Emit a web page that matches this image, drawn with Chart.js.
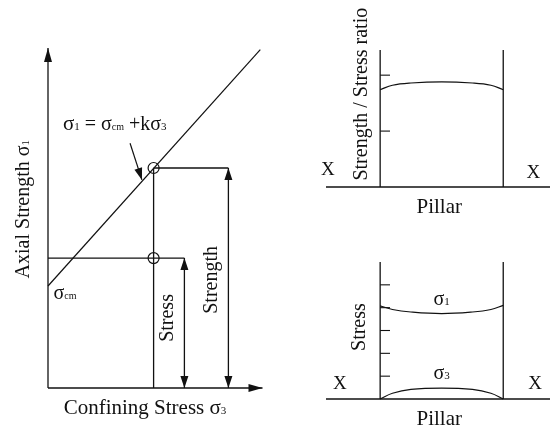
<!DOCTYPE html>
<html>
<head>
<meta charset="utf-8">
<script src="https://cdn.jsdelivr.net/npm/chart.js@4.4.1/dist/chart.umd.min.js"></script>
<style>
  html, body { margin: 0; padding: 0; background: #fff; }
  #wrap { position: relative; width: 550px; height: 427px; overflow: hidden; }
  .panel { position: absolute; }
</style>
</head>
<body>
<div id="wrap">
  <div class="panel" style="left:0;top:0;width:280px;height:427px"><canvas id="envelopeChart"></canvas></div>
  <div class="panel" style="left:300px;top:0;width:250px;height:220px"><canvas id="ratioChart"></canvas></div>
  <div class="panel" style="left:300px;top:220px;width:250px;height:207px"><canvas id="stressChart"></canvas></div>
</div>
<script>
// ------------------------------------------------------------
// Data
// ------------------------------------------------------------
// left: strength envelope (confining stress vs axial strength)
const yAxisTop = 10;
const xAxisEnd = 9.75;
const envelopeX = [0, 9.65];
const envelopeY = [3.0, 9.95];
const pillarSigma3 = 4.8;
const pillarStrength = 6.47;
const pillarStress = 3.82;
const stressArrowX = 6.2;
const strengthArrowX = 8.2;
const pointerX = [3.73, 4.27];
const pointerY = [7.2, 6.12];

// right: across the pillar (0 = left rib, 1 = right rib)
const pillarEdges = [0, 1];
const groundX = [-0.44, 1.38];
const acrossX = [0, 0.1, 0.25, 0.5, 0.75, 0.9, 1];
const ratioY = [1.74, 1.82, 1.86, 1.88, 1.86, 1.82, 1.74];
const ratioTicks = [1, 2];
const ratioTop = 2.45;
const sigma1Y = [4.08, 3.92, 3.81, 3.74, 3.81, 3.92, 4.1];
const sigma3Y = [0, 0.25, 0.42, 0.48, 0.42, 0.25, 0];
const stressTicks = [1, 2, 3, 4, 5];
const stressTop = 6.0;
const tickLen = 0.08;

const INK = '#111';
const SERIF = '"Liberation Serif", "DejaVu Serif", serif';

// ------------------------------------------------------------
// helpers
// ------------------------------------------------------------
function seg(xs, ys, extra) {
  return Object.assign({
    data: xs.map((x, i) => ({ x, y: ys[i] })),
    showLine: true,
    borderColor: INK,
    borderWidth: 1.3,
    pointRadius: 0,
    fill: false,
    clip: false,
    tension: 0
  }, extra || {});
}

function drawRich(ctx, x, y, parts, opts) {
  ctx.save();
  ctx.translate(x, y);
  if (opts.rotate) ctx.rotate(-Math.PI / 2);
  let total = 0;
  parts.forEach(([t, s]) => { ctx.font = `${s}px ${SERIF}`; total += ctx.measureText(t).width; });
  let cx = opts.align === 'left' ? 0 : -total / 2;
  const shift = opts.baseline ? 0 : parts[0][1] * 0.33;
  ctx.fillStyle = INK;
  ctx.textBaseline = 'alphabetic';
  parts.forEach(([t, s]) => {
    ctx.font = `${s}px ${SERIF}`;
    ctx.fillText(t, cx, shift);
    cx += ctx.measureText(t).width;
  });
  ctx.restore();
}

// arrow heads and text annotations, placed through the chart scales
const annotate = {
  id: 'annotate',
  afterDatasetsDraw(chart) {
    const ctx = chart.ctx;
    chart.data.datasets.forEach((ds, i) => {
      if (!ds.heads) return;
      const pts = chart.getDatasetMeta(i).data;
      const head = (tip, from) => {
        const a = Math.atan2(tip.y - from.y, tip.x - from.x);
        const L = ds.headLen || 12, W = ds.headW || 4;
        ctx.save();
        ctx.translate(tip.x, tip.y);
        ctx.rotate(a);
        ctx.beginPath();
        ctx.moveTo(0, 0);
        ctx.lineTo(-L, -W);
        ctx.lineTo(-L, W);
        ctx.closePath();
        ctx.fillStyle = INK;
        ctx.fill();
        ctx.restore();
      };
      if (ds.heads.includes('end')) head(pts[pts.length - 1], pts[pts.length - 2]);
      if (ds.heads.includes('start')) head(pts[0], pts[1]);
    });
    const sx = chart.scales.x, sy = chart.scales.y;
    (chart.options.plugins.annotate.labels || []).forEach(l => {
      drawRich(ctx, sx.getPixelForValue(l.x), sy.getPixelForValue(l.y), l.parts, l);
    });
  }
};

function baseOptions(padding, xr, yr, labels) {
  return {
    responsive: true,
    maintainAspectRatio: false,
    animation: false,
    events: [],
    layout: { padding },
    plugins: {
      legend: { display: false },
      tooltip: { enabled: false },
      annotate: { labels }
    },
    scales: {
      x: { type: 'linear', display: false, min: xr[0], max: xr[1] },
      y: { type: 'linear', display: false, min: yr[0], max: yr[1] }
    }
  };
}

// ------------------------------------------------------------
// Left: strength envelope
// ------------------------------------------------------------
new Chart(document.getElementById('envelopeChart'), {
  type: 'scatter',
  data: {
    datasets: [
      seg([0, 0], [0, yAxisTop], { heads: ['end'], headLen: 14, headW: 4 }),
      seg([0, xAxisEnd], [0, 0], { heads: ['end'], headLen: 14, headW: 4 }),
      seg(envelopeX, envelopeY, { borderWidth: 1.2 }),
      seg([pillarSigma3, pillarSigma3], [pillarStrength, 0]),
      seg([0, stressArrowX], [pillarStress, pillarStress]),
      seg([pillarSigma3, strengthArrowX], [pillarStrength, pillarStrength]),
      seg([stressArrowX, stressArrowX], [pillarStress, 0], { heads: ['start', 'end'], headLen: 12, headW: 4 }),
      seg([strengthArrowX, strengthArrowX], [pillarStrength, 0], { heads: ['start', 'end'], headLen: 12, headW: 4 }),
      seg(pointerX, pointerY, { heads: ['end'], headLen: 12, headW: 4, borderWidth: 1.2 }),
      {
        data: [{ x: pillarSigma3, y: pillarStrength }, { x: pillarSigma3, y: pillarStress }],
        showLine: false,
        pointStyle: 'circle',
        pointRadius: 5.5,
        pointBorderWidth: 1.2,
        pointBorderColor: INK,
        pointBackgroundColor: 'rgba(0,0,0,0)',
        clip: false
      }
    ]
  },
  plugins: [annotate],
  options: baseOptions({ left: 48, right: 12, top: 48, bottom: 39 }, [0, 10], [0, 10], [
    { x: 0.68, y: 7.59, align: 'left', baseline: true,
      parts: [['σ', 21], ['1', 11], [' = σ', 20], ['cm', 10], [' +kσ', 20], ['3', 11]] },
    { x: 0.25, y: 2.8, align: 'left', parts: [['σ', 20], ['cm', 10]] },
    { x: -1.18, y: 5.26, rotate: true, parts: [['Axial Strength σ', 20], ['1', 11]] },
    { x: 5.36, y: 2.06, rotate: true, parts: [['Stress', 20]] },
    { x: 7.36, y: 3.18, rotate: true, parts: [['Strength', 20]] },
    { x: 4.41, y: -0.56, parts: [['Confining Stress σ', 21], ['3', 11]] }
  ])
});

// ------------------------------------------------------------
// Right top: strength / stress ratio across the pillar
// ------------------------------------------------------------
new Chart(document.getElementById('ratioChart'), {
  type: 'scatter',
  data: {
    datasets: [
      seg(groundX, [0, 0]),
      seg([pillarEdges[0], pillarEdges[0]], [0, ratioTop]),
      seg([pillarEdges[1], pillarEdges[1]], [0, ratioTop]),
      ...ratioTicks.map(t => seg([0, tickLen], [t, t], { borderWidth: 1.1 })),
      seg(acrossX, ratioY, { tension: 0.4, borderWidth: 1.2 })
    ]
  },
  plugins: [annotate],
  options: baseOptions({ left: 26, right: 0, top: 50, bottom: 33 }, groundX, [0, ratioTop], [
    { x: -0.157, y: 1.66, rotate: true, parts: [['Strength / Stress ratio', 20]] },
    { x: -0.424, y: 0.32, parts: [['X', 19]] },
    { x: 1.244, y: 0.27, parts: [['X', 19]] },
    { x: 0.48, y: -0.34, parts: [['Pillar', 21]] }
  ])
});

// ------------------------------------------------------------
// Right bottom: principal stresses across the pillar
// ------------------------------------------------------------
new Chart(document.getElementById('stressChart'), {
  type: 'scatter',
  data: {
    datasets: [
      seg(groundX, [0, 0]),
      seg([pillarEdges[0], pillarEdges[0]], [0, stressTop]),
      seg([pillarEdges[1], pillarEdges[1]], [0, stressTop]),
      ...stressTicks.map(t => seg([0, tickLen], [t, t], { borderWidth: 1.1 })),
      seg(acrossX, sigma1Y, { tension: 0.4, borderWidth: 1.2 }),
      seg(acrossX, sigma3Y, { tension: 0.4, borderWidth: 1.2 })
    ]
  },
  plugins: [annotate],
  options: baseOptions({ left: 26, right: 0, top: 42, bottom: 28 }, groundX, [0, stressTop], [
    { x: -0.173, y: 3.15, rotate: true, parts: [['Stress', 20]] },
    { x: 0.5, y: 4.42, parts: [['σ', 20], ['1', 11]] },
    { x: 0.5, y: 1.18, parts: [['σ', 20], ['3', 11]] },
    { x: -0.327, y: 0.7, parts: [['X', 19]] },
    { x: 1.26, y: 0.7, parts: [['X', 19]] },
    { x: 0.48, y: -0.83, parts: [['Pillar', 21]] }
  ])
});
</script>
</body>
</html>
